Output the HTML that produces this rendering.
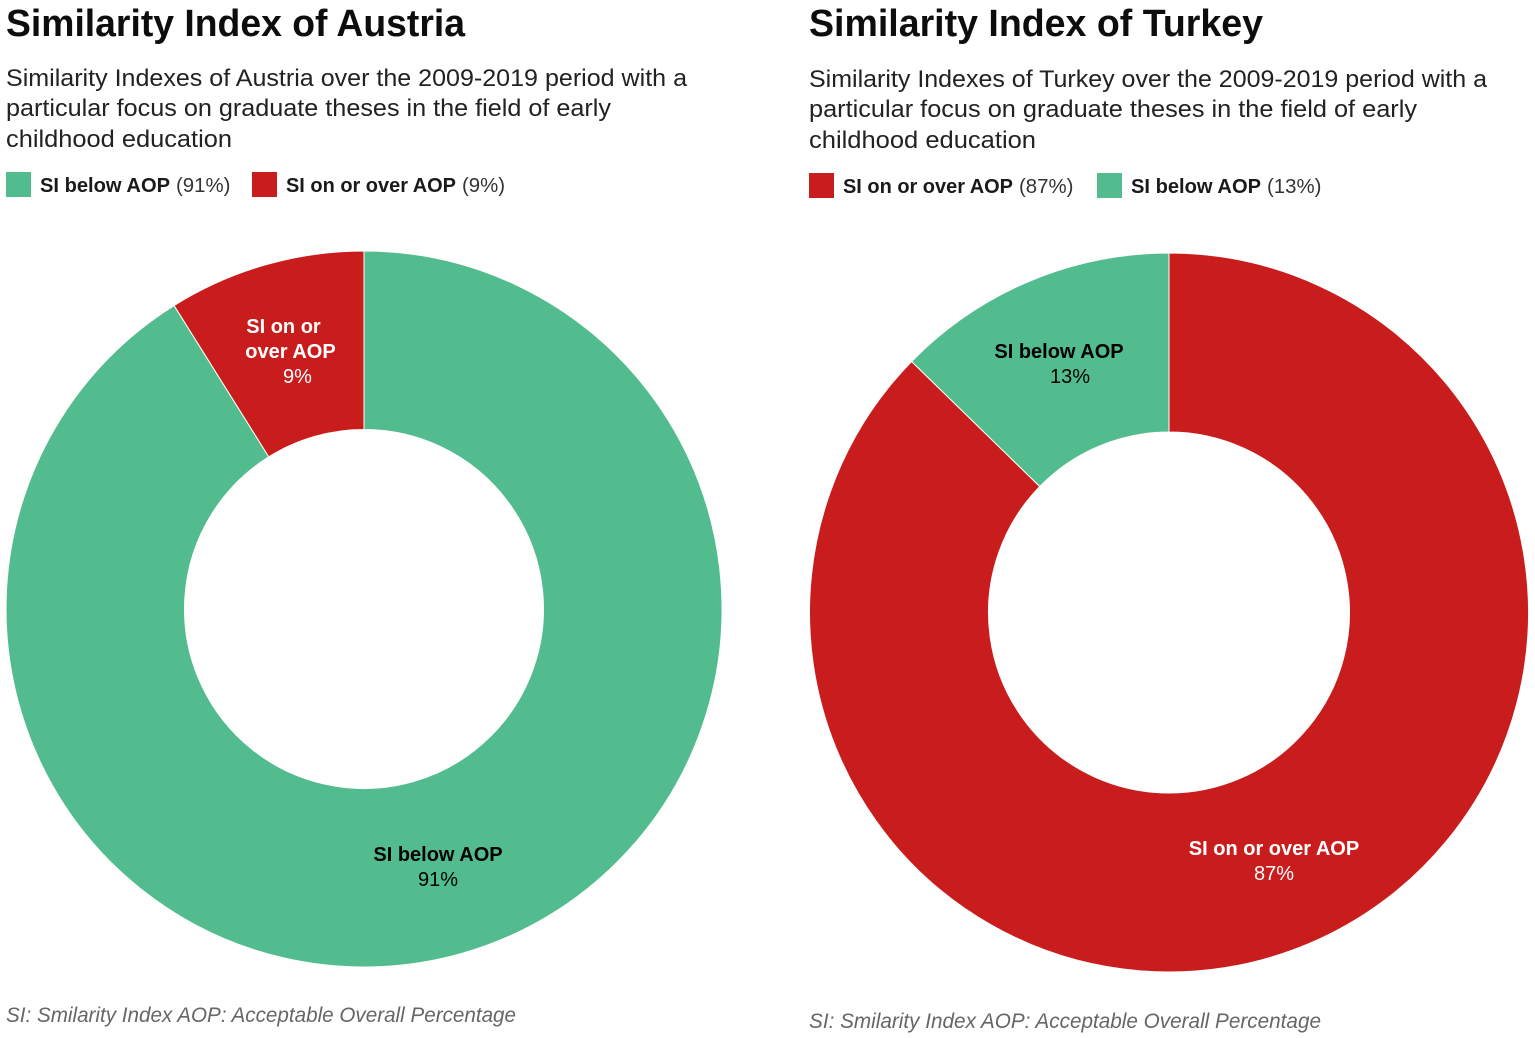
<!DOCTYPE html>
<html>
<head>
<meta charset="utf-8">
<style>
html,body{margin:0;padding:0;background:#fff;}
body{width:1535px;height:1038px;overflow:hidden;position:relative;font-family:"Liberation Sans",sans-serif;color:#1a1a1a;}
svg{position:absolute;left:0;top:0;}
</style>
</head>
<body>
<svg id="chart" width="1535" height="1038" viewBox="0 0 1535 1038" xmlns="http://www.w3.org/2000/svg"></svg>
<script>
var NS = 'http://www.w3.org/2000/svg';
var austriaCategories = ['SI below AOP', 'SI on or over AOP'];
var austriaValues = [91.1, 8.9];
var turkeyCategories = ['SI on or over AOP', 'SI below AOP'];
var turkeyValues = [87.3, 12.7];
var categoryColors = {'SI below AOP': '#52bc8f', 'SI on or over AOP': '#c91c1c'};
var categoryText = {'SI below AOP': '#000000', 'SI on or over AOP': '#ffffff'};

var svg = document.getElementById('chart');

function addText(x, y, str, size, weight, fill, anchor, style, name, stretch) {
  var t = document.createElementNS(NS, 'text');
  t.setAttribute('x', x);
  t.setAttribute('y', y);
  t.setAttribute('font-size', size);
  t.setAttribute('font-weight', weight);
  t.setAttribute('fill', fill);
  t.setAttribute('text-anchor', anchor || 'start');
  if (style) t.setAttribute('font-style', style);
  if (stretch) {
    t.setAttribute('textLength', stretch);
    t.setAttribute('lengthAdjust', 'spacingAndGlyphs');
  }
  
  
  t.textContent = str;
  svg.appendChild(t);
  return t;
}

function polar(cx, cy, r, frac) {
  var a = frac * 2 * Math.PI;
  return [cx + r * Math.sin(a), cy - r * Math.cos(a)];
}

function drawDonut(cfg) {
  var total = cfg.values.reduce(function (a, b) { return a + b; }, 0);
  var cum = 0;
  cfg.values.forEach(function (v, i) {
    var f0 = cum / total;
    var f1 = (cum + v) / total;
    cum += v;
    var p0 = polar(cfg.cx, cfg.cy, cfg.R, f0);
    var p1 = polar(cfg.cx, cfg.cy, cfg.R, f1);
    var q1 = polar(cfg.cx, cfg.cy, cfg.r, f1);
    var q0 = polar(cfg.cx, cfg.cy, cfg.r, f0);
    var large = (f1 - f0) > 0.5 ? 1 : 0;
    var d = 'M' + p0[0] + ' ' + p0[1] +
      'A' + cfg.R + ' ' + cfg.R + ' 0 ' + large + ' 1 ' + p1[0] + ' ' + p1[1] +
      'L' + q1[0] + ' ' + q1[1] +
      'A' + cfg.r + ' ' + cfg.r + ' 0 ' + large + ' 0 ' + q0[0] + ' ' + q0[1] + 'Z';
    var path = document.createElementNS(NS, 'path');
    path.setAttribute('d', d);
    path.setAttribute('fill', categoryColors[cfg.categories[i]]);
    path.setAttribute('stroke', '#ffffff');
    path.setAttribute('stroke-width', '1');
    
    
    svg.appendChild(path);
  });
}

function drawLegend(cfg) {
  var total = cfg.values.reduce(function (a, b) { return a + b; }, 0);
  cfg.categories.forEach(function (c, i) {
    var x = cfg.legendX[i];
    var rect = document.createElementNS(NS, 'rect');
    rect.setAttribute('x', x);
    rect.setAttribute('y', cfg.legendY);
    rect.setAttribute('width', 25);
    rect.setAttribute('height', 25);
    rect.setAttribute('fill', categoryColors[c]);
    
    
    svg.appendChild(rect);
    var pct = Math.round(cfg.values[i] / total * 100);
    var bw = c === 'SI below AOP' ? 130 : 170;
    addText(x + 34, cfg.legendY + 20, c, 20, 700, '#1a1a1a', 'start', null, cfg.prefix + '-legend-label-' + i, bw);
    addText(x + 34 + bw + 6, cfg.legendY + 20, '(' + pct + '%)', 20.4, 400, '#333333', 'start', null, cfg.prefix + '-legend-value-' + i);
  });
}

function drawLabels(cfg) {
  var total = cfg.values.reduce(function (a, b) { return a + b; }, 0);
  cfg.categories.forEach(function (c, i) {
    var fill = categoryText[c];
    var pct = Math.round(cfg.values[i] / total * 100) + '%';
    var lab = cfg.labels[i];
    lab.lines.forEach(function (ln, k) {
      addText(lab.xs[k], lab.y + k * 25, ln, 20, 700, fill, 'middle', null, cfg.prefix + '-slice-label-' + i + '-' + k);
    });
    addText(lab.valueX, lab.y + lab.lines.length * 25, pct, 20, 400, fill, 'middle', null, cfg.prefix + '-slice-value-' + i);
  });
}

var austria = {
  prefix: 'austria', cx: 364, cy: 609, R: 358, r: 179.5,
  categories: austriaCategories, values: austriaValues,
  legendX: [6, 252], legendY: 172,
  labels: [
    {xs: [438], valueX: 438, y: 861, lines: ['SI below AOP']},
    {xs: [283.5, 290.5], valueX: 297.5, y: 333, lines: ['SI on or', 'over AOP']}
  ]
};
var turkey = {
  prefix: 'turkey', cx: 1169, cy: 612.5, R: 359.5, r: 180.5,
  categories: turkeyCategories, values: turkeyValues,
  legendX: [809, 1097], legendY: 173,
  labels: [
    {xs: [1274], valueX: 1274, y: 855, lines: ['SI on or over AOP']},
    {xs: [1059], valueX: 1070, y: 358, lines: ['SI below AOP']}
  ]
};

addText(6, 36, 'Similarity Index of Austria', 38, 700, '#0d0d0d', 'start', null, 'austria-title', 459);
addText(6, 86, 'Similarity Indexes of Austria over the 2009-2019 period with a', 24, 400, '#222222', 'start', null, 'austria-subtitle-line-1', 681);
addText(6, 116, 'particular focus on graduate theses in the field of early', 24, 400, '#222222', 'start', null, 'austria-subtitle-line-2', 605);
addText(6, 147, 'childhood education', 24, 400, '#222222', 'start', null, 'austria-subtitle-line-3', 226);

addText(809, 36, 'Similarity Index of Turkey', 38, 700, '#0d0d0d', 'start', null, 'turkey-title', 454);
addText(809, 87, 'Similarity Indexes of Turkey over the 2009-2019 period with a', 24, 400, '#222222', 'start', null, 'turkey-subtitle-line-1', 678);
addText(809, 117, 'particular focus on graduate theses in the field of early', 24, 400, '#222222', 'start', null, 'turkey-subtitle-line-2', 608);
addText(809, 148, 'childhood education', 24, 400, '#222222', 'start', null, 'turkey-subtitle-line-3', 227);

drawLegend(austria);
drawLegend(turkey);
drawDonut(austria);
drawDonut(turkey);
drawLabels(austria);
drawLabels(turkey);

addText(6, 1022, 'SI: Smilarity Index AOP: Acceptable Overall Percentage', 21, 400, '#666666', 'start', 'italic', 'austria-footnote', 510);
addText(809, 1028, 'SI: Smilarity Index AOP: Acceptable Overall Percentage', 21, 400, '#666666', 'start', 'italic', 'turkey-footnote', 512);
</script>
</body>
</html>
